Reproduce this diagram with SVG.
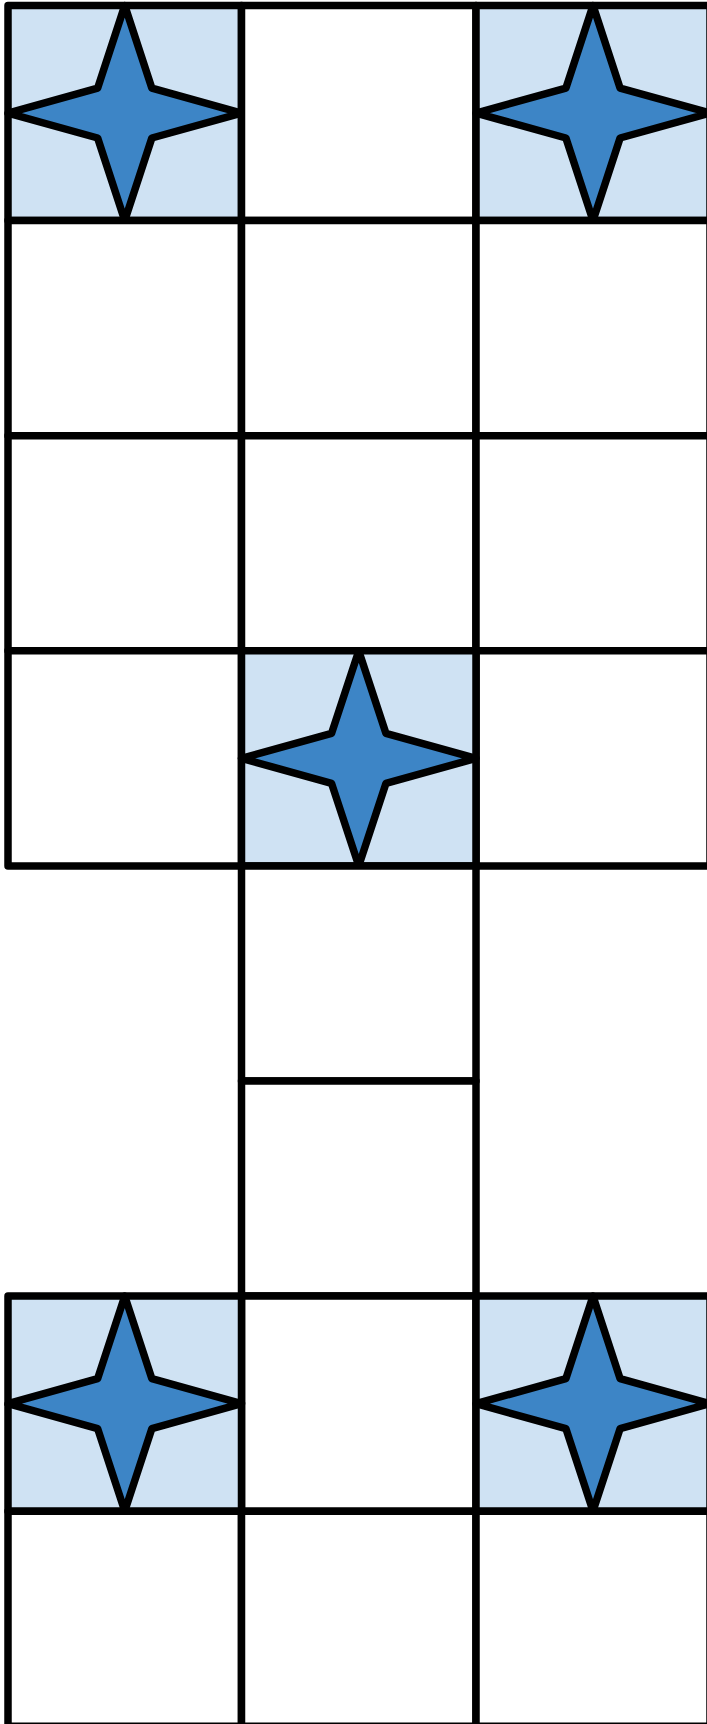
<svg xmlns="http://www.w3.org/2000/svg" width="707" height="1724" viewBox="0 0 707 1724">
  <style>
    .cell { fill: #ffffff; stroke: #000000; stroke-width: 7.5; stroke-linejoin: round; }
    .hl { fill: #cfe2f3; stroke: #000000; stroke-width: 7.5; stroke-linejoin: round; }
    .star { fill: #3d85c6; stroke: #000000; stroke-width: 7.5; stroke-linejoin: round; }
  </style>
  <rect x="0" y="0" width="707" height="1724" fill="#ffffff"/>
  <g id="row0">
    <g id="c0_0"><rect class="hl" x="8" y="5.5" width="233.5" height="215.1"/><path class="star" d="M124.75,5.5 L151.85,88.1 L241.5,113.05 L151.85,138 L124.75,220.6 L97.65,138 L8,113.05 L97.65,88.1 Z"/></g>
    <g id="c0_1"><rect class="cell" x="241.5" y="5.5" width="234.5" height="215.1"/></g>
    <g id="c0_2"><rect class="hl" x="476" y="5.5" width="234" height="215.1"/><path class="star" d="M593,5.5 L620.1,88.1 L710,113.05 L620.1,138 L593,220.6 L565.9,138 L476,113.05 L565.9,88.1 Z"/></g>
  </g>
  <g id="row1">
    <g id="c1_0"><rect class="cell" x="8" y="220.6" width="233.5" height="215.1"/></g>
    <g id="c1_1"><rect class="cell" x="241.5" y="220.6" width="234.5" height="215.1"/></g>
    <g id="c1_2"><rect class="cell" x="476" y="220.6" width="234" height="215.1"/></g>
  </g>
  <g id="row2">
    <g id="c2_0"><rect class="cell" x="8" y="435.7" width="233.5" height="215.1"/></g>
    <g id="c2_1"><rect class="cell" x="241.5" y="435.7" width="234.5" height="215.1"/></g>
    <g id="c2_2"><rect class="cell" x="476" y="435.7" width="234" height="215.1"/></g>
  </g>
  <g id="row3">
    <g id="c3_0"><rect class="cell" x="8" y="650.8" width="233.5" height="215.1"/></g>
    <g id="c3_2"><rect class="cell" x="476" y="650.8" width="234" height="215.1"/></g>
    <g id="c3_1"><rect class="hl" x="241.5" y="650.8" width="234.5" height="215.1"/><path class="star" d="M358.75,650.8 L385.95,733.4 L476,758.35 L385.95,783.3 L358.75,865.9 L331.55,783.3 L241.5,758.35 L331.55,733.4 Z"/></g>
  </g>
  <g id="row4">
    <g id="c4_1"><rect class="cell" x="241.5" y="865.9" width="234.5" height="215.1"/></g>
  </g>
  <g id="row5">
    <g id="c5_1"><rect class="cell" x="241.5" y="1081" width="234.5" height="215.1"/></g>
  </g>
  <g id="row6">
    <g id="c6_1"><rect class="cell" x="241.5" y="1296.1" width="234.5" height="215.1"/></g>
    <g id="c6_0"><rect class="hl" x="8" y="1296.1" width="233.5" height="215.1"/><path class="star" d="M124.75,1296.1 L151.85,1378.7 L241.5,1403.65 L151.85,1428.6 L124.75,1511.2 L97.65,1428.6 L8,1403.65 L97.65,1378.7 Z"/></g>
    <g id="c6_2"><rect class="hl" x="476" y="1296.1" width="234" height="215.1"/><path class="star" d="M593,1296.1 L620.1,1378.7 L710,1403.65 L620.1,1428.6 L593,1511.2 L565.9,1428.6 L476,1403.65 L565.9,1378.7 Z"/></g>
  </g>
  <g id="row7">
    <g id="c7_0"><rect class="cell" x="8" y="1511.2" width="233.5" height="215.1"/></g>
    <g id="c7_1"><rect class="cell" x="241.5" y="1511.2" width="234.5" height="215.1"/></g>
    <g id="c7_2"><rect class="cell" x="476" y="1511.2" width="234" height="215.1"/></g>
  </g>
  <g id="connectors"></g>
</svg>
